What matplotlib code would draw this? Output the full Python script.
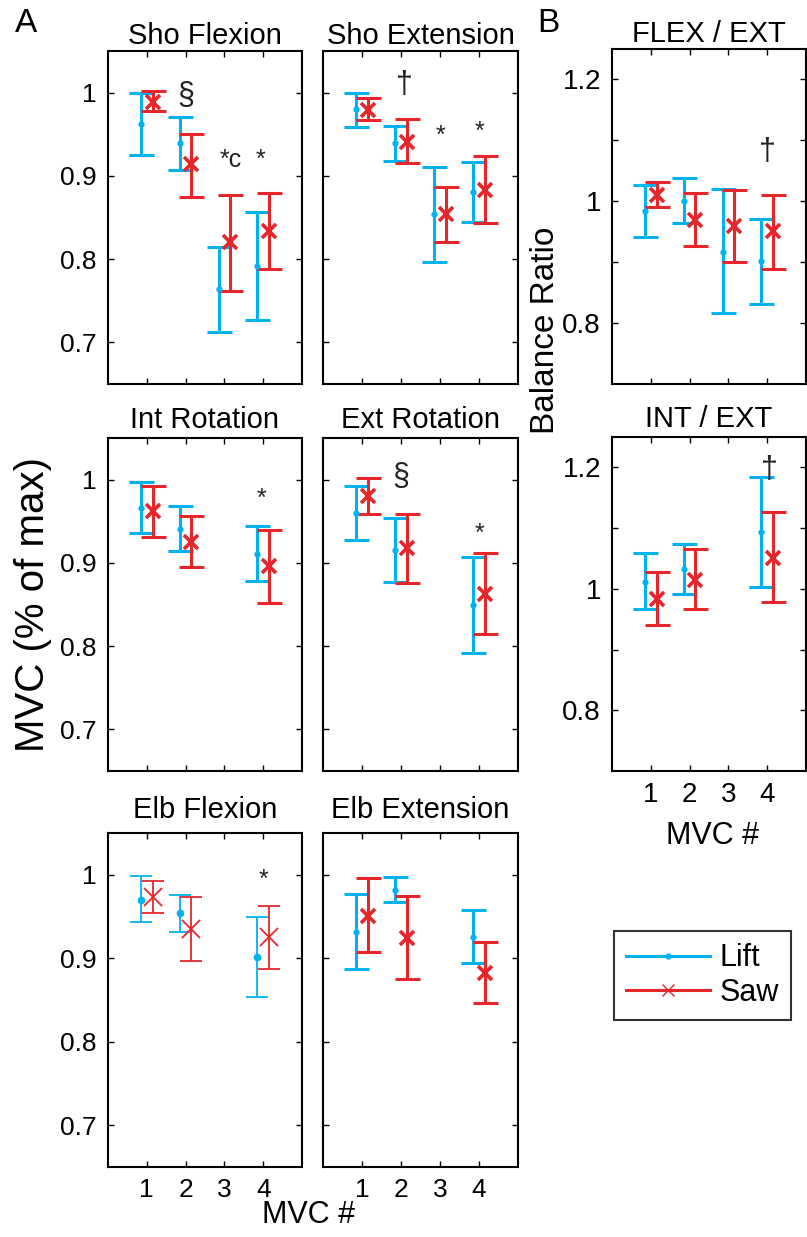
import numpy as np
import matplotlib
matplotlib.use("Agg")
import matplotlib.pyplot as plt
from matplotlib.lines import Line2D

plt.rcParams['font.family'] = ['Liberation Sans', 'DejaVu Sans']

# colours
lift_col = '#00B2EE'
saw_col = '#E6262B'

mvc_all = [1, 2, 3, 4]
mvc_no3 = [1, 2, 4]

# --- A: MVC (% of max), mean / top / bottom of each bar ---
sho_flex_lift = [0.962, 0.939, 0.764, 0.792]
sho_flex_lift_top = [1.000, 0.971, 0.815, 0.857]
sho_flex_lift_bot = [0.925, 0.907, 0.712, 0.727]
sho_flex_saw = [0.989, 0.914, 0.820, 0.834]
sho_flex_saw_top = [1.002, 0.950, 0.877, 0.879]
sho_flex_saw_bot = [0.978, 0.875, 0.762, 0.788]

sho_ext_lift = [0.980, 0.939, 0.854, 0.881]
sho_ext_lift_top = [0.999, 0.960, 0.911, 0.917]
sho_ext_lift_bot = [0.959, 0.918, 0.797, 0.844]
sho_ext_saw = [0.979, 0.941, 0.854, 0.883]
sho_ext_saw_top = [0.993, 0.968, 0.887, 0.924]
sho_ext_saw_bot = [0.967, 0.915, 0.820, 0.843]

int_rot_lift = [0.966, 0.941, 0.911]
int_rot_lift_top = [0.997, 0.968, 0.944]
int_rot_lift_bot = [0.936, 0.914, 0.878]
int_rot_saw = [0.962, 0.925, 0.896]
int_rot_saw_top = [0.992, 0.956, 0.939]
int_rot_saw_bot = [0.931, 0.895, 0.852]

ext_rot_lift = [0.960, 0.916, 0.849]
ext_rot_lift_top = [0.992, 0.954, 0.907]
ext_rot_lift_bot = [0.927, 0.877, 0.792]
ext_rot_saw = [0.980, 0.918, 0.863]
ext_rot_saw_top = [1.002, 0.959, 0.912]
ext_rot_saw_bot = [0.959, 0.876, 0.814]

elb_flex_lift = [0.970, 0.954, 0.901]
elb_flex_lift_top = [0.998, 0.976, 0.949]
elb_flex_lift_bot = [0.943, 0.932, 0.854]
elb_flex_saw = [0.973, 0.935, 0.925]
elb_flex_saw_top = [0.992, 0.973, 0.962]
elb_flex_saw_bot = [0.954, 0.897, 0.887]

elb_ext_lift = [0.932, 0.982, 0.926]
elb_ext_lift_top = [0.977, 0.997, 0.958]
elb_ext_lift_bot = [0.887, 0.967, 0.894]
elb_ext_saw = [0.951, 0.924, 0.882]
elb_ext_saw_top = [0.996, 0.974, 0.920]
elb_ext_saw_bot = [0.907, 0.875, 0.847]

# --- B: balance ratios ---
flex_ext_lift = [0.984, 1.001, 0.917, 0.902]
flex_ext_lift_top = [1.027, 1.038, 1.020, 0.971]
flex_ext_lift_bot = [0.941, 0.964, 0.816, 0.832]
flex_ext_saw = [1.011, 0.970, 0.959, 0.951]
flex_ext_saw_top = [1.031, 1.014, 1.018, 1.010]
flex_ext_saw_bot = [0.991, 0.927, 0.901, 0.888]

int_ext_lift = [1.012, 1.032, 1.094]
int_ext_lift_top = [1.059, 1.074, 1.184]
int_ext_lift_bot = [0.966, 0.992, 1.003]
int_ext_saw = [0.984, 1.015, 1.051]
int_ext_saw_top = [1.027, 1.066, 1.126]
int_ext_saw_bot = [0.940, 0.966, 0.978]

# significance marks (text, x, baseline y)
sho_flex_marks = [('§', 2.0, 0.986), ('*c', 2.88, 0.911), ('*', 3.92, 0.911)]
sho_ext_marks = [('†', 2.1, 0.999), ('*', 3.0, 0.940), ('*', 4.0, 0.945)]
int_rot_marks = [('*', 3.95, 0.969)]
ext_rot_marks = [('§', 2.0, 0.993), ('*', 4.0, 0.927)]
elb_flex_marks = [('*', 4.0, 0.986)]
elb_ext_marks = []
flex_ext_marks = [('†', 4.0, 1.068)]
int_ext_marks = [('†', 4.05, 1.183)]

W, H = 807, 1237
fig = plt.figure(figsize=(W / 100, H / 100), dpi=100)


def box(x0, y0, x1, y1):
    return fig.add_axes([x0 / W, 1 - y1 / H, (x1 - x0) / W, (y1 - y0) / H])


def bars(ax, x, m, top, bot, col, marker, ms, mew, lw, cap):
    m = np.array(m)
    err = [m - np.array(bot), np.array(top) - m]
    line, caps, lines = ax.errorbar(x, m, yerr=err, fmt=marker, color=col, ms=ms,
                                    elinewidth=lw, capsize=cap, capthick=lw, zorder=3)
    line.set_markeredgewidth(mew)


def panel(ax, x, lift, lt, lb, saw, st, sb, marks, thin=False):
    xs = np.array(x)
    if thin:
        bars(ax, xs - 0.15, lift, lt, lb, lift_col, 'o', 4.5, 1, 1.3, 8)
        bars(ax, xs + 0.15, saw, st, sb, saw_col, 'x', 13, 1.3, 1.3, 8)
    else:
        bars(ax, xs - 0.15, lift, lt, lb, lift_col, 'o', 3.5, 1, 2.2, 9)
        bars(ax, xs + 0.15, saw, st, sb, saw_col, 'x', 10, 2.6, 2.2, 9)
    for s, mx, my in marks:
        fs = 18 if '*' in s else 22
        ax.text(mx, my, s, ha='left' if s == '*c' else 'center', va='baseline',
                fontsize=fs, color='#222222')
    ax.set_xlim(0, 5)
    ax.set_xticks(mvc_all)
    ax.tick_params(direction='in', top=True, right=True, length=4, width=1,
                   labelsize=19, pad=8)
    for sp in ax.spines.values():
        sp.set_linewidth(1.5)


def a_axes(ax, left_col, bottom_row):
    ax.set_ylim(0.65, 1.05)
    ax.set_yticks([0.7, 0.8, 0.9, 1.0])
    ax.set_yticklabels(['0.7', '0.8', '0.9', '1'] if left_col else [])
    if not bottom_row:
        ax.set_xticklabels([])


ax1 = box(108, 51, 302, 384)
panel(ax1, mvc_all, sho_flex_lift, sho_flex_lift_top, sho_flex_lift_bot,
      sho_flex_saw, sho_flex_saw_top, sho_flex_saw_bot, sho_flex_marks)
a_axes(ax1, True, False)
ax1.set_title('Sho Flexion', fontsize=21, pad=5)

ax2 = box(323, 51, 518, 384)
panel(ax2, mvc_all, sho_ext_lift, sho_ext_lift_top, sho_ext_lift_bot,
      sho_ext_saw, sho_ext_saw_top, sho_ext_saw_bot, sho_ext_marks)
a_axes(ax2, False, False)
ax2.set_title('Sho Extension', fontsize=21, pad=5)

ax3 = box(108, 438, 302, 771)
panel(ax3, mvc_no3, int_rot_lift, int_rot_lift_top, int_rot_lift_bot,
      int_rot_saw, int_rot_saw_top, int_rot_saw_bot, int_rot_marks)
a_axes(ax3, True, False)
ax3.set_title('Int Rotation', fontsize=21, pad=7)

ax4 = box(323, 438, 518, 771)
panel(ax4, mvc_no3, ext_rot_lift, ext_rot_lift_top, ext_rot_lift_bot,
      ext_rot_saw, ext_rot_saw_top, ext_rot_saw_bot, ext_rot_marks)
a_axes(ax4, False, False)
ax4.set_title('Ext Rotation', fontsize=21, pad=7)

ax5 = box(108, 833, 302, 1167)
panel(ax5, mvc_no3, elb_flex_lift, elb_flex_lift_top, elb_flex_lift_bot,
      elb_flex_saw, elb_flex_saw_top, elb_flex_saw_bot, elb_flex_marks, thin=True)
a_axes(ax5, True, True)
ax5.set_title('Elb Flexion', fontsize=21, pad=11)

ax6 = box(323, 833, 518, 1167)
panel(ax6, mvc_no3, elb_ext_lift, elb_ext_lift_top, elb_ext_lift_bot,
      elb_ext_saw, elb_ext_saw_top, elb_ext_saw_bot, elb_ext_marks)
a_axes(ax6, False, True)
ax6.set_title('Elb Extension', fontsize=21, pad=11)

ax7 = box(612, 49, 806, 384)
panel(ax7, mvc_all, flex_ext_lift, flex_ext_lift_top, flex_ext_lift_bot,
      flex_ext_saw, flex_ext_saw_top, flex_ext_saw_bot, flex_ext_marks)
ax7.set_title('FLEX / EXT', fontsize=21, pad=5)

ax8 = box(612, 437, 806, 771)
panel(ax8, mvc_no3, int_ext_lift, int_ext_lift_top, int_ext_lift_bot,
      int_ext_saw, int_ext_saw_top, int_ext_saw_bot, int_ext_marks)
ax8.set_title('INT / EXT', fontsize=21, pad=7)

for ax in (ax7, ax8):
    ax.set_ylim(0.7, 1.25)
    ax.set_yticks([0.8, 0.9, 1.0, 1.1, 1.2])
    ax.set_yticklabels(['0.8', '', '1', '', '1.2'])
    ax.tick_params(labelsize=20)
ax7.set_xticklabels([])

fig.text(26 / W, 1 - 23 / H, 'A', fontsize=24, ha='center', va='center')
fig.text(548 / W, 1 - 23 / H, 'B', fontsize=24, ha='center', va='center')
fig.text(33 / W, 1 - 604 / H, 'MVC (% of max)', fontsize=29, rotation=90,
         ha='center', va='center')
fig.text(545 / W, 1 - 330 / H, 'Balance Ratio', fontsize=24, rotation=90,
         ha='center', va='center')
fig.text(308 / W, 1 - 1215 / H, 'MVC #', fontsize=22, ha='center', va='center')
fig.text(712 / W, 1 - 836 / H, 'MVC #', fontsize=22, ha='center', va='center')

handles = [Line2D([], [], color=lift_col, lw=2.2, marker='o', ms=3.5),
           Line2D([], [], color=saw_col, lw=2.2, marker='x', ms=9, mew=1)]
leg = fig.legend(handles, ['Lift', 'Saw'], loc='upper left',
                 bbox_to_anchor=(614 / W, 1 - 931 / H), fontsize=22,
                 handlelength=2.75, handletextpad=0.3, borderpad=0.4,
                 labelspacing=0.15, fancybox=False, borderaxespad=0)
leg.get_frame().set_edgecolor('black')
leg.get_frame().set_linewidth(1.5)

fig.savefig('out.png', dpi=100)
